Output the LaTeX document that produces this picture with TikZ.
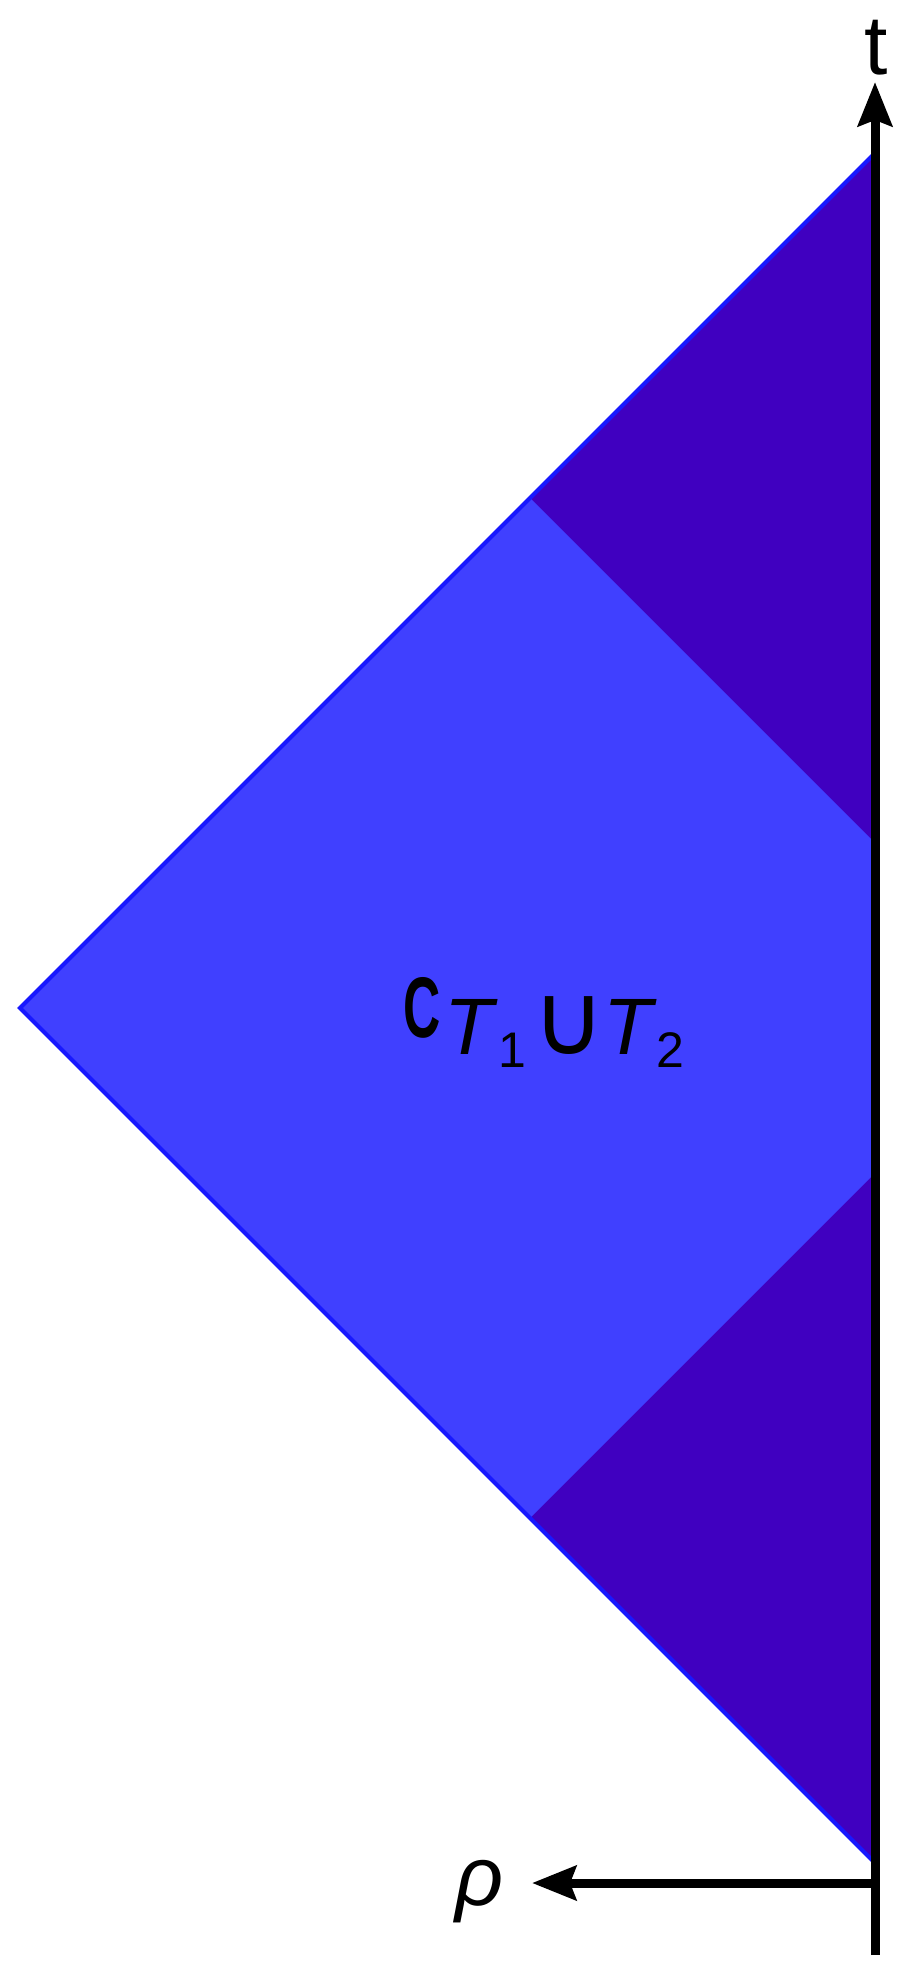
\documentclass[tikz,border=0pt]{standalone}
\usepackage{fontspec}
\setmainfont{Liberation Sans}
\newfontfamily\cupfont{DejaVu Sans}
\usepackage{graphicx}
\usetikzlibrary{arrows.meta}
\definecolor{lightblue}{RGB}{64,64,255}
\definecolor{darkviolet}{RGB}{64,0,192}
\definecolor{edgeblue}{RGB}{24,24,255}

\begin{document}
\begin{tikzpicture}[x=0.5pt,y=-0.5pt,>={Stealth[length=22pt,width=17pt,inset=3pt]},font=\fontsize{42}{42}\selectfont]
                \useasboundingbox (0,0) rectangle (900,1973);
                \coordinate (tMin) at (875,1955);
                \coordinate (tMax) at (875,82);
                \coordinate (O) at (875,1883);
                \coordinate (rhoMax) at (532,1883);
                \coordinate (top) at (875,153);
                \coordinate (left) at (20,1008);
                \coordinate (bottom) at (875,1863);
                \coordinate (dTop) at (530,498);
                \coordinate (dBottom) at (530,1518);
                \fill[darkviolet] (top) -- (left) -- (bottom) -- cycle;
                \fill[lightblue] (left) -- (dTop) -- (875,843) -- (875,1173) -- (dBottom) -- cycle;
                \draw[edgeblue,line width=2pt] (top) -- (left) -- (bottom);
                \draw[->,line width=4.5pt] (tMin) -- (tMax);
                \draw[->,line width=4.5pt] (O) -- (rhoMax);
                \node[anchor=base] (tLabel) at (876,75) {t};
                \node[anchor=base] (rhoLabel) at (480,1905) {\textit{ρ}};
                \node[anchor=base west,inner sep=0] (cLabel) at (403,1054) {\raisebox{8.5pt}{\fontsize{43}{43}\selectfont\scalebox{0.6}[1]{\textbf{C}}}\kern2pt\fontsize{40}{40}\selectfont\textit{T}\raisebox{-6.5pt}{\fontsize{25}{25}\selectfont 1}\kern3pt{\fontsize{50}{50}\cupfont ∪}\kern-1pt\textit{T}\raisebox{-6.5pt}{\fontsize{25}{25}\selectfont 2}};
            \end{tikzpicture}
\end{document}
